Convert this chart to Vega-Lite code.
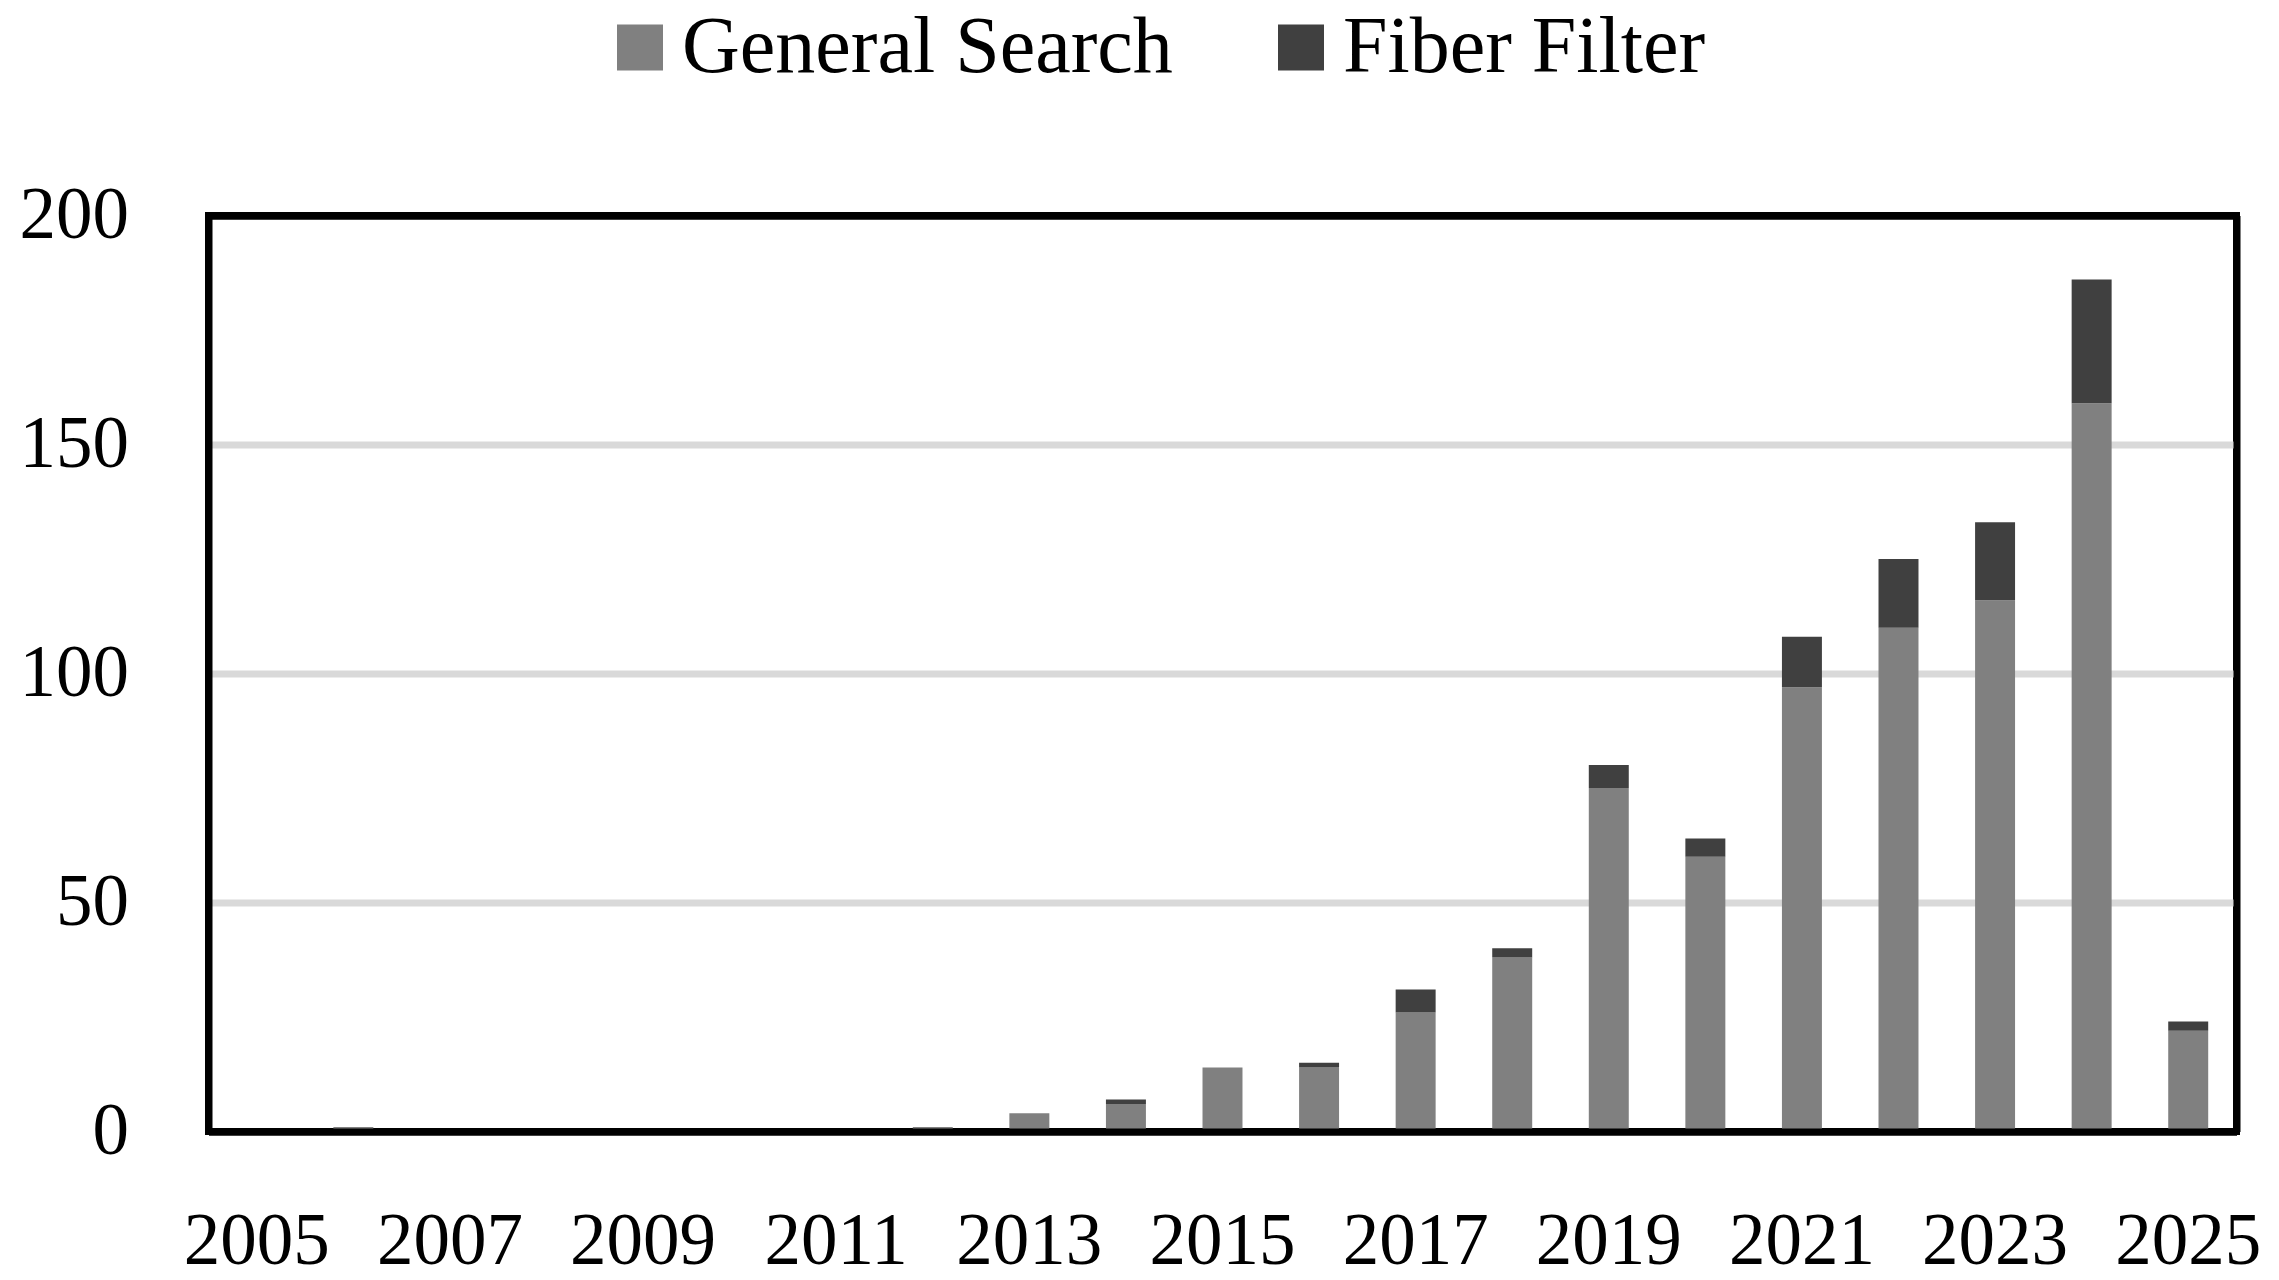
{
  "$schema": "https://vega.github.io/schema/vega-lite/v6.json",
  "width": 2028,
  "height": 916,
  "autosize": {"type": "none"},
  "padding": {"left": 208.5, "top": 215.5, "right": 42.5, "bottom": 148.5},
  "background": "white",
  "config": {"view": {"stroke": "black", "strokeWidth": 7}, "font": "Liberation Serif"},
  "data": {
    "values": [
      {"year": "2005", "series": "General Search", "count": 0},
      {"year": "2005", "series": "Fiber Filter", "count": 0},
      {"year": "2006", "series": "General Search", "count": 1},
      {"year": "2006", "series": "Fiber Filter", "count": 0},
      {"year": "2007", "series": "General Search", "count": 0},
      {"year": "2007", "series": "Fiber Filter", "count": 0},
      {"year": "2008", "series": "General Search", "count": 0},
      {"year": "2008", "series": "Fiber Filter", "count": 0},
      {"year": "2009", "series": "General Search", "count": 0},
      {"year": "2009", "series": "Fiber Filter", "count": 0},
      {"year": "2010", "series": "General Search", "count": 0},
      {"year": "2010", "series": "Fiber Filter", "count": 0},
      {"year": "2011", "series": "General Search", "count": 0},
      {"year": "2011", "series": "Fiber Filter", "count": 0},
      {"year": "2012", "series": "General Search", "count": 1},
      {"year": "2012", "series": "Fiber Filter", "count": 0},
      {"year": "2013", "series": "General Search", "count": 4},
      {"year": "2013", "series": "Fiber Filter", "count": 0},
      {"year": "2014", "series": "General Search", "count": 6},
      {"year": "2014", "series": "Fiber Filter", "count": 1},
      {"year": "2015", "series": "General Search", "count": 14},
      {"year": "2015", "series": "Fiber Filter", "count": 0},
      {"year": "2016", "series": "General Search", "count": 14},
      {"year": "2016", "series": "Fiber Filter", "count": 1},
      {"year": "2017", "series": "General Search", "count": 26},
      {"year": "2017", "series": "Fiber Filter", "count": 5},
      {"year": "2018", "series": "General Search", "count": 38},
      {"year": "2018", "series": "Fiber Filter", "count": 2},
      {"year": "2019", "series": "General Search", "count": 75},
      {"year": "2019", "series": "Fiber Filter", "count": 5},
      {"year": "2020", "series": "General Search", "count": 60},
      {"year": "2020", "series": "Fiber Filter", "count": 4},
      {"year": "2021", "series": "General Search", "count": 97},
      {"year": "2021", "series": "Fiber Filter", "count": 11},
      {"year": "2022", "series": "General Search", "count": 110},
      {"year": "2022", "series": "Fiber Filter", "count": 15},
      {"year": "2023", "series": "General Search", "count": 116},
      {"year": "2023", "series": "Fiber Filter", "count": 17},
      {"year": "2024", "series": "General Search", "count": 159},
      {"year": "2024", "series": "Fiber Filter", "count": 27},
      {"year": "2025", "series": "General Search", "count": 22},
      {"year": "2025", "series": "Fiber Filter", "count": 2}
    ]
  },
  "layer": [
    {
      "mark": {"type": "bar"},
      "encoding": {
        "x": {
          "field": "year",
          "type": "ordinal",
          "scale": {"paddingInner": 0.586, "paddingOuter": 0.293},
          "axis": {
            "orient": "bottom",
            "values": ["2005", "2007", "2009", "2011", "2013", "2015", "2017", "2019", "2021", "2023", "2025"],
            "labelAngle": 0,
            "labelFontSize": 73,
            "labelFont": "Liberation Serif",
            "labelColor": "black",
            "labelPadding": 74,
            "labelOverlap": false,
            "ticks": false,
            "tickSize": 0,
            "domain": true,
            "domainColor": "black",
            "domainWidth": 7,
            "grid": false,
            "title": null,
            "zindex": 1
          }
        },
        "y": {
          "field": "count",
          "type": "quantitative",
          "stack": "zero",
          "scale": {"domain": [0, 200], "nice": false},
          "axis": {
            "orient": "left",
            "values": [0, 50, 100, 150, 200],
            "labelFontSize": 73,
            "labelFont": "Liberation Serif",
            "labelColor": "black",
            "labelPadding": 80,
            "ticks": false,
            "tickSize": 0,
            "domain": true,
            "domainColor": "black",
            "domainWidth": 7,
            "grid": true,
            "gridColor": {"condition": {"test": "datum.value === 0 || datum.value === 200", "value": "black"}, "value": "#d9d9d9"},
            "gridWidth": 7,
            "title": null,
            "zindex": 0
          }
        },
        "color": {
          "field": "series",
          "type": "nominal",
          "sort": ["General Search", "Fiber Filter"],
          "scale": {"domain": ["General Search", "Fiber Filter"], "range": ["#808080", "#404040"]},
          "legend": {
            "orient": "none",
            "legendX": 391.5,
            "legendY": -208,
            "direction": "horizontal",
            "title": null,
            "labelFontSize": 80,
            "labelFont": "Liberation Serif",
            "labelColor": "black",
            "labelLimit": 0,
            "symbolType": "square",
            "symbolSize": 2116,
            "symbolStrokeWidth": 0,
            "symbolOpacity": 1,
            "labelOffset": 2,
            "columnPadding": 88,
            "padding": 0
          }
        }
      }
    },
    {
      "mark": {"type": "bar", "opacity": 0},
      "encoding": {
        "x": {
          "field": "year",
          "type": "ordinal",
          "axis": {
            "orient": "top",
            "labels": false,
            "ticks": false,
            "domain": true,
            "domainColor": "black",
            "domainWidth": 7,
            "grid": false,
            "title": null,
            "zindex": 1
          }
        },
        "y": {
          "field": "count",
          "type": "quantitative",
          "stack": null,
          "scale": {"domain": [0, 200], "nice": false},
          "axis": {
            "orient": "right",
            "labels": false,
            "ticks": false,
            "domain": true,
            "domainColor": "black",
            "domainWidth": 7,
            "grid": false,
            "title": null,
            "zindex": 1
          }
        }
      }
    }
  ],
  "resolve": {"axis": {"x": "independent", "y": "independent"}}
}
